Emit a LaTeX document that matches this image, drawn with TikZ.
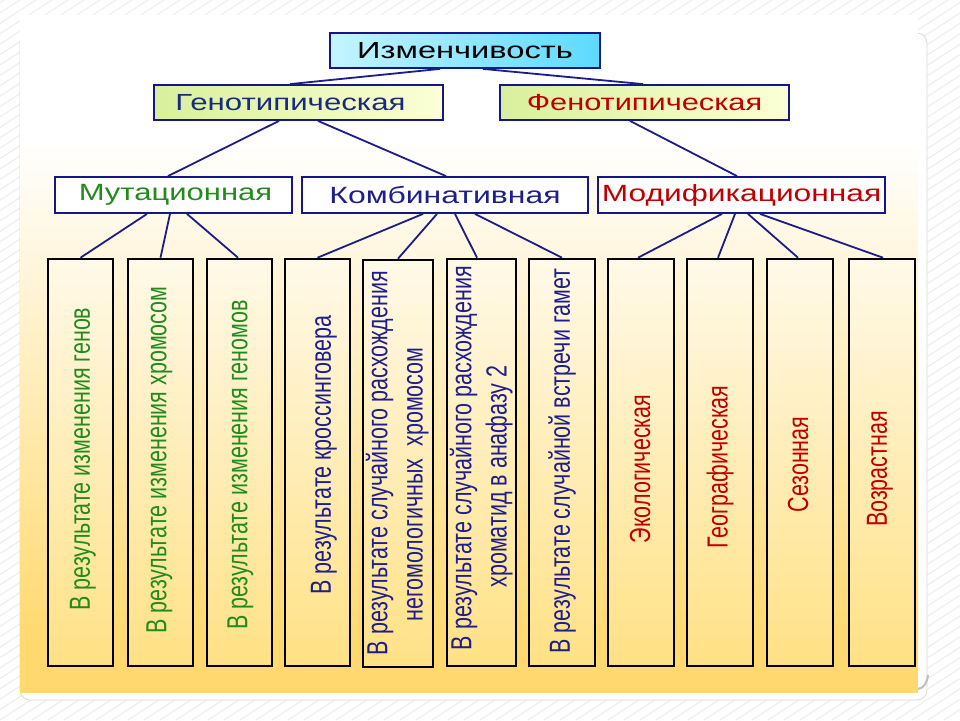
\documentclass[tikz,border=0pt]{standalone}
\usepackage{fontspec}
\setmainfont{Liberation Sans}
\usepackage{graphicx}
\definecolor{lineblue}{HTML}{1C1C8A}
\definecolor{boxblue}{HTML}{16168A}
\definecolor{txgreen}{HTML}{238B1E}
\definecolor{txred}{HTML}{C00000}
\definecolor{txblue}{HTML}{1E1E8C}
\definecolor{txgen}{HTML}{1A2A80}
\definecolor{izmL}{HTML}{C4F4FF}
\definecolor{izmR}{HTML}{5CDAFF}
\definecolor{genL}{HTML}{D8F09C}
\definecolor{genR}{HTML}{FCFFD6}
\definecolor{bxtop}{HTML}{FFF9E8}
\definecolor{bxbot}{HTML}{FFE185}
\definecolor{bgyel}{HTML}{FFD970}
\definecolor{hatch}{HTML}{EEEEEE}
\newcommand{\myhs}[2][1.36]{\scalebox{#1}[1]{#2}}
\newcommand{\myvt}[1]{\scalebox{1.35}[1]{\rotatebox{90}{#1}}}
\begin{document}
\begin{tikzpicture}[x=1pt,y=-1pt,
  lvl/.style={draw=boxblue, line width=1.8pt, inner sep=0pt, minimum height=35pt},
  lvltext/.style={font=\fontsize{23.3}{28}\selectfont},
  lvlthree/.style={lvl, fill=white, minimum height=36pt, font=\fontsize{23.5}{28}\selectfont},
  bbox/.style={draw=black, line width=2.6pt, inner sep=0pt, minimum width=65pt, minimum height=407pt, top color=bxtop, bottom color=bxbot},
  conn/.style={draw=lineblue, line width=1.8pt},
  vtext/.style={inner sep=0pt, font=\fontsize{21.5}{26}\selectfont}
]
\useasboundingbox (0,0) rectangle (960,720);
% background with hatching
\fill[white] (0,0) rectangle (960,720);
\begin{scope}
  \clip (0,0) rectangle (960,720);
  \foreach \i in {-1120,-1104,...,976} {
    \draw[hatch, line width=1.1pt] (\i,720) -- ({\i+1108},0);
  }
\end{scope}
% slide panels
\draw[gray!30, line width=0.8pt, fill=white, rounded corners=10pt] (20,33) rectangle (927,700);
\draw[gray!50, line width=2pt] (918,689) .. controls (924,688) and (927,683) .. (928,675);
\fill[white] (20,15) rectangle (918,693);
\shade[top color=white, bottom color=bgyel] (20,140) rectangle (918,640);
\fill[bgyel] (20,639.5) rectangle (918,693);

% level 1 and 2
\node[lvl, lvltext, minimum width=270pt, left color=izmL, right color=izmR] (izm) at (465,50.5) {\myhs[1.40]{Изменчивость}};
\node[lvl, lvltext, minimum width=289pt, left color=genL, right color=genR, text=txgen] (gen) at (298.5,102.5) {\myhs[1.34]{Генотипическая}\hspace*{16pt}};
\node[lvl, lvltext, minimum width=289pt, left color=genL, right color=genR, text=txred] (fen) at (644.5,102.5) {\myhs[1.32]{Фенотипическая}};
% level 3
\node[lvlthree, minimum width=237pt, text=txgreen] (mut) at (173.5,195) {\hspace*{4pt}\myhs[1.32]{Мутационная}};
\node[lvlthree, minimum width=286pt, text=txblue] (komb) at (445,195) {\myhs{Комбинативная}};
\node[lvlthree, minimum width=287pt, text=txred] (mod) at (741.5,195) {\myhs[1.35]{Модификационная}};
% bottom boxes
\node[bbox] (b1) at (80.5,462.5) {};
\node[bbox] (b2) at (160.5,462.5) {};
\node[bbox] (b3) at (239.5,462.5) {};
\node[bbox] (b4) at (317.5,462.5) {};
\node[bbox, minimum width=70pt] (b5) at (398,463.5) {};
\node[bbox, minimum width=69pt] (b6) at (481.5,462.5) {};
\node[bbox, minimum width=66pt] (b7) at (562,462.5) {};
\node[bbox, minimum width=66pt] (b8) at (641,462.5) {};
\node[bbox, minimum width=66pt] (b9) at (720,462.5) {};
\node[bbox, minimum width=66pt] (b10) at (800,462.5) {};
\node[bbox, minimum width=66pt] (b11) at (882,462.5) {};
% bottom texts
\node[vtext, text=txgreen] (t1) at (83,459) {\myvt{В результате изменения генов}};
\node[vtext, text=txgreen] (t2) at (159.5,460) {\myvt{В результате изменения хромосом}};
\node[vtext, text=txgreen] (t3) at (240.5,465) {\myvt{В результате изменения геномов}};
\node[vtext, text=txblue] (t4) at (324,455) {\myvt{В результате кроссинговера}};
\node[vtext, text=txblue] (t5) at (398,463) {\myvt{\begin{tabular}{@{}c@{}}В результате случайного расхождения\\негомологичных\ \ хромосом\hspace*{43pt}\end{tabular}}};
\node[vtext, text=txblue] (t6) at (482,458) {\myvt{\begin{tabular}{@{}c@{}}В результате случайного расхождения\\хроматид в анафазу 2\hspace*{37pt}\end{tabular}}};
\node[vtext, text=txblue] (t7) at (562,461) {\myvt{В результате случайной встречи гамет}};
\node[vtext, text=txred] (t8) at (640,469) {\myvt{Экологическая}};
\node[vtext, text=txred] (t9) at (720,467) {\myvt{Географическая}};
\node[vtext, text=txred] (t10) at (798,464.5) {\myvt{Сезонная}};
\node[vtext, text=txred] (t11) at (880,469) {\myvt{Возрастная}};

% connectors
\draw[conn] ([xshift=-25pt]izm.south) -- ([xshift=-8.5pt]gen.north);
\draw[conn] ([xshift=18pt]izm.south) -- ([xshift=-1.5pt]fen.north);
\draw[conn] ([xshift=-19.5pt]gen.south) -- ([xshift=-5.5pt]mut.north);
\draw[conn] ([xshift=19.5pt]gen.south) -- ([xshift=1pt]komb.north);
\draw[conn] ([xshift=-14.5pt]fen.south) -- ([xshift=-4.5pt]mod.north);
\draw[conn] ([xshift=-26.5pt]mut.south) -- (b1.north);
\draw[conn] ([xshift=-3.5pt]mut.south) -- (b2.north);
\draw[conn] ([xshift=13.5pt]mut.south) -- ([xshift=-1.5pt]b3.north);
\draw[conn] ([xshift=-22pt]komb.south) -- (b4.north);
\draw[conn] ([xshift=-8pt]komb.south) -- (b5.north);
\draw[conn] ([xshift=10pt]komb.south) -- ([xshift=-4.5pt]b6.north);
\draw[conn] ([xshift=30pt]komb.south) -- (b7.north);
\draw[conn] ([xshift=-19.5pt]mod.south) -- ([xshift=-3pt]b8.north);
\draw[conn] ([xshift=-6.5pt]mod.south) -- ([xshift=-2pt]b9.north);
\draw[conn] ([xshift=6.5pt]mod.south) -- ([xshift=-2pt]b10.north);
\draw[conn] ([xshift=18.5pt]mod.south) -- ([xshift=1pt]b11.north);
\end{tikzpicture}
\end{document}
